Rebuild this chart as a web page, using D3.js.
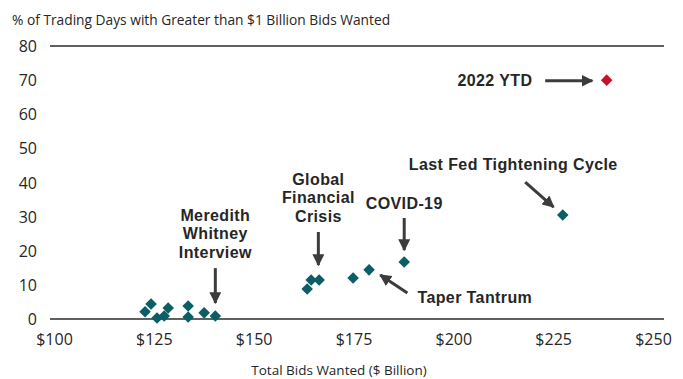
<!DOCTYPE html>
<html>
<head>
<meta charset="utf-8">
<script src="https://cdn.jsdelivr.net/npm/d3@7"></script>
<style>
  body { margin: 0; background: #fff; }
  svg { display: block; }
  .tick-label { font-family: "Open Sans", sans-serif; fill: #262626; }
  .note { font-family: "Liberation Sans", Arial, sans-serif; font-weight: bold; font-size: 16px; letter-spacing: 0.4px; fill: #262626; }
</style>
</head>
<body>
<div id="chart"></div>
<script>
// bids wanted ($bn) vs % of days with > $1bn bids wanted
var bidsWanted = [122.8, 124.3, 125.8, 127.6, 128.6, 133.6, 133.6, 137.6, 140.4,
                  163.4, 164.4, 166.4, 174.9, 178.9, 187.7, 227.4];
var pctDays    = [2.1, 4.4, 0.3, 0.9, 3.2, 3.8, 0.6, 1.8, 0.9,
                  8.8, 11.4, 11.4, 12.0, 14.4, 16.7, 30.5];
var ytdPoint = [238.4, 70];

var xTicks = [100, 125, 150, 175, 200, 225, 250];
var yTicks = [0, 10, 20, 30, 40, 50, 60, 70, 80];

// annotation labels: text lines + anchor (data units), arrows from -> to (data units)
var notes = [
  {lines: ["2022 YTD"], x: 219.8, y: 69.8, anchor: "end"},
  {lines: ["Last Fed Tightening Cycle"], x: 215.0, y: 45.4, anchor: "middle"},
  {lines: ["COVID-19"], x: 187.7, y: 34.0, anchor: "middle"},
  {lines: ["Global", "Financial", "Crisis"], x: 166.2, y: 41.0, anchor: "middle"},
  {lines: ["Meredith", "Whitney", "Interview"], x: 140.4, y: 30.5, anchor: "middle"},
  {lines: ["Taper Tantrum"], x: 191.0, y: 6.2, anchor: "start"}
];
var arrows = [
  [[223.0, 69.8], [234.8, 69.8]],
  [[218.0, 40.1], [225.1, 32.8]],
  [[187.7, 29.6], [187.7, 20.2]],
  [[166.2, 25.5], [166.2, 15.8]],
  [[140.4, 14.9], [140.4, 4.7]],
  [[188.5, 7.6], [181.7, 12.9]]
];

var width = 683, height = 379;
var svg = d3.select("#chart").append("svg")
  .attr("width", width).attr("height", height);

var x = d3.scaleLinear().domain([100, 250]).range([54, 653]);
var y = d3.scaleLinear().domain([0, 80]).range([319, 46]);

// title
svg.append("text")
  .attr("class", "tick-label")
  .attr("x", 12).attr("y", 25)
  .style("font-size", "13.75px")
  .text("% of Trading Days with Greater than $1 Billion Bids Wanted");

// only the 0 and 80 lines are drawn
svg.selectAll("line.hl")
  .data([0, 80])
  .enter().append("line")
  .attr("class", "hl")
  .attr("x1", 50).attr("x2", 664)
  .attr("y1", function(d) { return y(d); })
  .attr("y2", function(d) { return y(d); })
  .attr("stroke", "#2b2b2b").attr("stroke-width", 1.6);

var yAxis = d3.axisLeft(y).tickValues(yTicks).tickSize(0).tickPadding(0);
var gy = svg.append("g").attr("transform", "translate(37,0)").call(yAxis);
gy.select(".domain").remove();
gy.selectAll("text").attr("class", "tick-label").style("font-size", "16px")
  .attr("dy", "0.35em");

var xAxis = d3.axisBottom(x).tickValues(xTicks).tickSize(0).tickPadding(0)
  .tickFormat(function(d) { return "$" + d; });
var gx = svg.append("g").attr("transform", "translate(0,334)").call(xAxis);
gx.select(".domain").remove();
gx.selectAll("text").attr("class", "tick-label").style("font-size", "16px");

svg.append("text")
  .attr("class", "tick-label")
  .attr("x", 339).attr("y", 375)
  .attr("text-anchor", "middle")
  .style("font-size", "13.5px")
  .text("Total Bids Wanted ($ Billion)");

// arrow marker
svg.append("defs").append("marker")
  .attr("id", "head")
  .attr("viewBox", "0 0 10 10")
  .attr("refX", 9).attr("refY", 5)
  .attr("markerWidth", 4).attr("markerHeight", 4)
  .attr("markerUnits", "strokeWidth")
  .attr("orient", "auto")
  .append("path").attr("d", "M0,0 L10,5 L0,10 Z").attr("fill", "#3c3c3c");

svg.selectAll("line.arrow")
  .data(arrows)
  .enter().append("line")
  .attr("class", "arrow")
  .attr("x1", function(d) { return x(d[0][0]); })
  .attr("y1", function(d) { return y(d[0][1]); })
  .attr("x2", function(d) { return x(d[1][0]); })
  .attr("y2", function(d) { return y(d[1][1]); })
  .attr("stroke", "#3c3c3c").attr("stroke-width", 3)
  .attr("marker-end", "url(#head)");

var notesG = svg.selectAll("text.note")
  .data(notes)
  .enter().append("text")
  .attr("class", "note")
  .attr("text-anchor", function(d) { return d.anchor; })
  .attr("transform", function(d) { return "translate(" + x(d.x) + "," + y(d.y) + ")"; });
notesG.selectAll("tspan")
  .data(function(d) { return d.lines; })
  .enter().append("tspan")
  .attr("x", 0)
  .attr("y", function(d, i) { return i * 18.5; })
  .attr("dy", "0.35em")
  .text(function(d) { return d; });

var diamond = d3.symbol().type(d3.symbolDiamond2).size(85);

svg.selectAll("path.pt")
  .data(bidsWanted)
  .enter().append("path")
  .attr("class", "pt")
  .attr("d", diamond)
  .attr("transform", function(d, i) { return "translate(" + x(d) + "," + y(pctDays[i]) + ")"; })
  .attr("fill", "#0b5d66");

svg.append("path")
  .attr("d", diamond)
  .attr("transform", "translate(" + x(ytdPoint[0]) + "," + y(ytdPoint[1]) + ")")
  .attr("fill", "#c8102e");
</script>
</body>
</html>
